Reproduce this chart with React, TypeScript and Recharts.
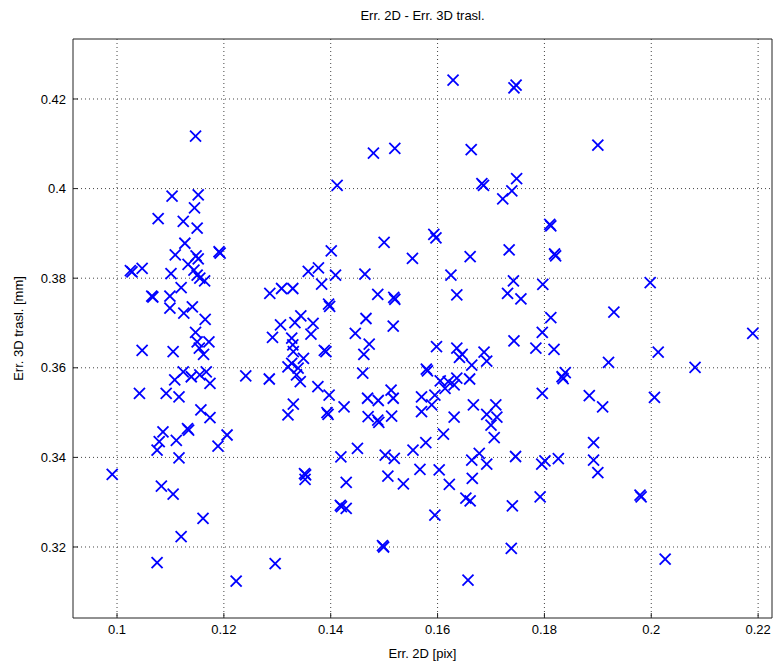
import { ScatterChart, Scatter, XAxis, YAxis, CartesianGrid } from 'recharts'

// Err. 2D [pix] and Err. 3D trasl. [mm], paired by index
const err2D = [
  0.1147, 0.1103, 0.1152, 0.1145, 0.1077, 0.1124, 0.1480, 0.1520, 0.1412, 0.1629,
  0.1743, 0.1747, 0.1663, 0.1683, 0.1686, 0.1748, 0.1739, 0.1722, 0.1810, 0.1812,
  0.1900, 0.1150, 0.1127, 0.1109, 0.1148, 0.1152, 0.1191, 0.1193, 0.1133, 0.1025,
  0.1028, 0.1047, 0.1101, 0.1144, 0.1150, 0.1155, 0.1164, 0.1120, 0.1065, 0.1067,
  0.1099, 0.1099, 0.1125, 0.1141, 0.1165, 0.1147, 0.1150, 0.1172, 0.1154, 0.1162,
  0.1047, 0.1105, 0.1124, 0.1108, 0.1139, 0.1155, 0.1167, 0.1174, 0.1042, 0.1092,
  0.1116, 0.1157, 0.1174, 0.1241, 0.1086, 0.1132, 0.1134, 0.1079, 0.1111, 0.1075,
  0.1116, 0.1189, 0.1206, 0.0991, 0.1083, 0.1105, 0.1161, 0.1120, 0.1075, 0.1223,
  0.1500, 0.1553, 0.1401, 0.1358, 0.1377, 0.1409, 0.1464, 0.1383, 0.1286, 0.1308,
  0.1329, 0.1488, 0.1518, 0.1520, 0.1396, 0.1398, 0.1466, 0.1517, 0.1344, 0.1333,
  0.1367, 0.1306, 0.1291, 0.1327, 0.1363, 0.1329, 0.1446, 0.1472, 0.1462, 0.1388,
  0.1391, 0.1330, 0.1349, 0.1320, 0.1327, 0.1339, 0.1343, 0.1336, 0.1285, 0.1460,
  0.1376, 0.1397, 0.1330, 0.1320, 0.1425, 0.1393, 0.1395, 0.1469, 0.1489, 0.1513,
  0.1517, 0.1570, 0.1470, 0.1488, 0.1490, 0.1514, 0.1570, 0.1593, 0.1597, 0.1661,
  0.1734, 0.1819, 0.1821, 0.1625, 0.1636, 0.1742, 0.1731, 0.1756, 0.1797, 0.1812,
  0.1796, 0.1743, 0.1784, 0.1818, 0.1598, 0.1636, 0.1646, 0.1641, 0.1687, 0.1692,
  0.1664, 0.1579, 0.1581, 0.1605, 0.1620, 0.1636, 0.1631, 0.1660, 0.1614, 0.1595,
  0.1589, 0.1667, 0.1709, 0.1692, 0.1631, 0.1711, 0.1796, 0.1839, 0.1833, 0.1835,
  0.1884, 0.1998, 0.1930, 0.2190, 0.2013, 0.1920, 0.2082, 0.2006, 0.1909, 0.1419,
  0.1450, 0.1502, 0.1519, 0.1554, 0.1578, 0.1567, 0.1507, 0.1536, 0.1351, 0.1353,
  0.1352, 0.1429, 0.1418, 0.1420, 0.1429, 0.1497, 0.1499, 0.1296, 0.1700, 0.1706,
  0.1611, 0.1664, 0.1678, 0.1692, 0.1746, 0.1603, 0.1622, 0.1665, 0.1653, 0.1661,
  0.1595, 0.1740, 0.1792, 0.1795, 0.1801, 0.1826, 0.1892, 0.1892, 0.1900, 0.1738,
  0.1657, 0.1979, 0.1981, 0.2026,
]

const err3D = [
  0.4117, 0.3983, 0.3986, 0.3957, 0.3933, 0.3927, 0.4079, 0.4090, 0.4007, 0.4242,
  0.4225, 0.4231, 0.4087, 0.4011, 0.4007, 0.4022, 0.3995, 0.3977, 0.3920, 0.3917,
  0.4097, 0.3912, 0.3878, 0.3852, 0.3850, 0.3843, 0.3859, 0.3856, 0.3831, 0.3817,
  0.3814, 0.3822, 0.3810, 0.3818, 0.3807, 0.3800, 0.3794, 0.3779, 0.3760, 0.3758,
  0.3760, 0.3733, 0.3722, 0.3736, 0.3708, 0.3679, 0.3658, 0.3658, 0.3644, 0.3630,
  0.3639, 0.3636, 0.3591, 0.3573, 0.3580, 0.3584, 0.3591, 0.3565, 0.3543, 0.3543,
  0.3535, 0.3506, 0.3489, 0.3582, 0.3457, 0.3464, 0.3461, 0.3435, 0.3438, 0.3416,
  0.3399, 0.3425, 0.3450, 0.3362, 0.3336, 0.3318, 0.3264, 0.3223, 0.3165, 0.3124,
  0.3880, 0.3844, 0.3861, 0.3815, 0.3823, 0.3807, 0.3809, 0.3787, 0.3766, 0.3777,
  0.3777, 0.3764, 0.3757, 0.3753, 0.3742, 0.3737, 0.3710, 0.3693, 0.3716, 0.3701,
  0.3699, 0.3696, 0.3668, 0.3666, 0.3675, 0.3651, 0.3677, 0.3653, 0.3630, 0.3639,
  0.3636, 0.3636, 0.3621, 0.3602, 0.3610, 0.3599, 0.3569, 0.3584, 0.3575, 0.3588,
  0.3558, 0.3539, 0.3519, 0.3495, 0.3513, 0.3500, 0.3496, 0.3532, 0.3527, 0.3550,
  0.3532, 0.3535, 0.3491, 0.3483, 0.3478, 0.3492, 0.3502, 0.3898, 0.3890, 0.3848,
  0.3863, 0.3854, 0.3850, 0.3807, 0.3763, 0.3794, 0.3766, 0.3754, 0.3786, 0.3712,
  0.3679, 0.3660, 0.3644, 0.3641, 0.3647, 0.3644, 0.3630, 0.3623, 0.3635, 0.3615,
  0.3606, 0.3597, 0.3593, 0.3571, 0.3569, 0.3577, 0.3562, 0.3575, 0.3554, 0.3539,
  0.3517, 0.3517, 0.3517, 0.3496, 0.3490, 0.3490, 0.3543, 0.3589, 0.3580, 0.3576,
  0.3538, 0.3790, 0.3724, 0.3677, 0.3635, 0.3612, 0.3601, 0.3534, 0.3513, 0.3401,
  0.3420, 0.3405, 0.3398, 0.3416, 0.3433, 0.3373, 0.3358, 0.3341, 0.3364, 0.3361,
  0.3351, 0.3344, 0.3293, 0.3290, 0.3286, 0.3203, 0.3200, 0.3163, 0.3472, 0.3444,
  0.3452, 0.3394, 0.3409, 0.3385, 0.3402, 0.3372, 0.3340, 0.3353, 0.3309, 0.3303,
  0.3271, 0.3292, 0.3312, 0.3385, 0.3392, 0.3397, 0.3433, 0.3394, 0.3366, 0.3197,
  0.3126, 0.3316, 0.3312, 0.3173,
]

const xTicks = [0.1, 0.12, 0.14, 0.16, 0.18, 0.2, 0.22]
const yTicks = [0.32, 0.34, 0.36, 0.38, 0.4, 0.42]
const xDomain = [0.09176, 0.2226]
const yDomain = [0.30415, 0.43339]

const points = err2D.map((x, i) => ({ x, y: err3D[i] }))

const font = '"Liberation Sans", Arial, sans-serif'
const fmt = (v: number) => String(Number(v.toFixed(2)))

const Cross = (props: any) => {
  const { cx, cy } = props
  const s = 5.5
  return (
    <g stroke="#0000ff" strokeWidth={1.8}>
      <line x1={cx - s} y1={cy - s} x2={cx + s} y2={cy + s} />
      <line x1={cx - s} y1={cy + s} x2={cx + s} y2={cy - s} />
    </g>
  )
}

export default function App() {
  const tickStyle = { fill: '#000', fontSize: 13, fontFamily: font }
  const labelStyle = { fill: '#000', fontSize: 13, fontFamily: font }
  return (
    <div style={{ position: 'absolute', left: 0, top: 0, background: '#fff' }}>
      <ScatterChart width={774} height={662} margin={{ top: 38, right: 1, bottom: 0, left: 0 }}>
        <CartesianGrid stroke="#444" strokeDasharray="1 3" horizontalValues={yTicks} verticalValues={xTicks} />
        <XAxis
          type="number"
          dataKey="x"
          domain={xDomain}
          allowDataOverflow
          ticks={xTicks}
          tickFormatter={fmt}
          height={44}
          tickSize={-5}
          tickMargin={12}
          stroke="#222"
          tick={tickStyle}
          label={{ value: 'Err. 2D [pix]', position: 'insideBottom', offset: 4, style: labelStyle }}
        />
        <XAxis
          xAxisId="top"
          orientation="top"
          type="number"
          dataKey="x"
          domain={xDomain}
          allowDataOverflow
          ticks={xTicks}
          height={1}
          tickSize={-5}
          tick={false}
          stroke="#222"
          label={{ value: 'Err. 2D - Err. 3D trasl.', position: 'top', offset: 18, style: labelStyle }}
        />
        <YAxis
          type="number"
          dataKey="y"
          domain={yDomain}
          allowDataOverflow
          ticks={yTicks}
          tickFormatter={fmt}
          width={73}
          tickSize={-5}
          tickMargin={12}
          stroke="#222"
          tick={tickStyle}
          label={{ value: 'Err. 3D trasl. [mm]', angle: -90, position: 'insideLeft', offset: 18, style: { ...labelStyle, textAnchor: 'middle' } }}
        />
        <YAxis
          yAxisId="right"
          orientation="right"
          type="number"
          dataKey="y"
          domain={yDomain}
          allowDataOverflow
          ticks={yTicks}
          width={1}
          tickSize={-5}
          tick={false}
          stroke="#222"
        />
        <Scatter data={points} shape={Cross} isAnimationActive={false} />
        <Scatter data={points} xAxisId="top" yAxisId="right" shape={() => <g />} isAnimationActive={false} />
      </ScatterChart>
    </div>
  )
}
